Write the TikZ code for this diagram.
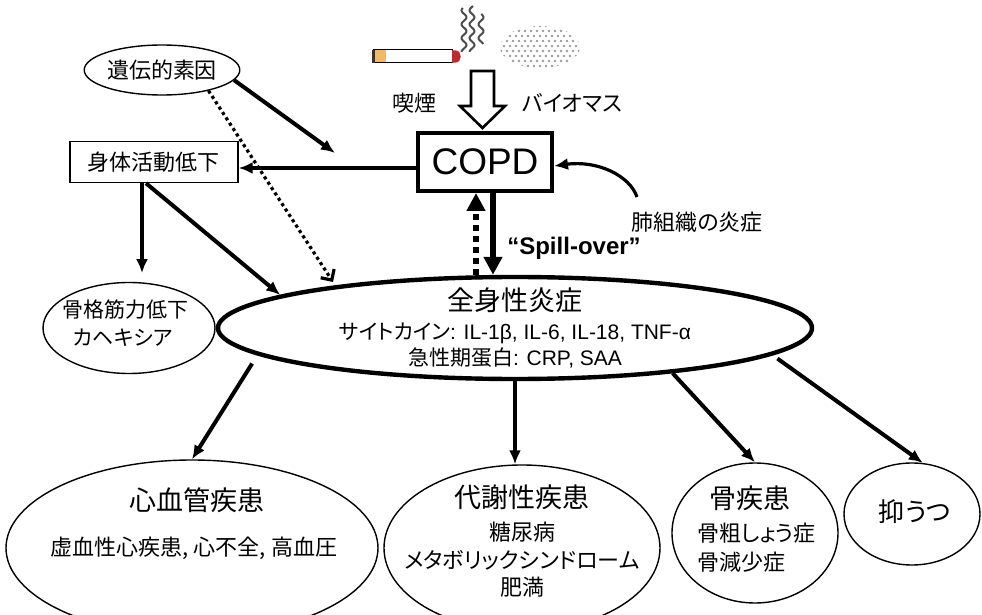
\documentclass[tikz,border=0pt]{standalone}
\usepackage{fontspec}
\setmainfont{Liberation Sans}
\newfontfamily\jp[RawFeature=+palt]{Noto Sans CJK JP}
\usetikzlibrary{arrows.meta,shapes.geometric}
\definecolor{filter}{HTML}{F2B866}
\definecolor{ember}{HTML}{C0282D}

\begin{document}
\begin{tikzpicture}[x=0.5pt,y=-0.5pt,
  jt/.style={font=\jp\fontsize{#1}{#1}\selectfont, inner sep=0pt},
  lt/.style={font=\fontsize{#1}{#1}\selectfont, inner sep=0pt},
  oval/.style={ellipse, draw=black, line width=0.7pt, inner sep=0pt},
  arr/.style={-{Latex[length=7pt,width=6pt]}, line width=2pt},
  fat/.style={-{Triangle[length=9pt,width=9pt]}, line width=3pt},
  dots/.style={-{Straight Barb[length=4pt,width=8pt]}, line width=1.6pt, dash pattern=on 1.6pt off 1.6pt},
]
\useasboundingbox (0,0) rectangle (982,615);

% cigarette and smoke
\draw[line width=0.5pt, fill=white] (373,50) rectangle (452,63);
\fill[filter] (374,50.5) rectangle (386,62.5);
\draw[line width=1.2pt, black!80] (373.5,50) -- (373.5,63);
\fill[ember] (452,50.3) -- (455,50.3) to[out=0,in=0,looseness=1.6] (455,62.7) -- (452,62.7) -- cycle;
\foreach \sx/\ya/\yb in {464/8/52, 472/6/52, 481/14/44}
  \draw[line width=1pt, black!70] plot[domain=\ya:\yb, samples=40, smooth] ({\sx+2.5*sin(\x*26)}, \x);

% biomass haze
\begin{scope}
  \clip (540,47) ellipse [x radius=40, y radius=21];
  \foreach \i in {0,...,14}
    \foreach \j in {0,...,9}
      \fill[black!40] ({498+\i*6+mod(\j,2)*3}, {26+\j*5}) circle [radius=0.65pt];
\end{scope}

% hollow arrow into COPD
\draw[line width=1.3pt, fill=white, line join=miter] (471,71) -- (494,71) -- (494,106) -- (505,106)
  -- (482.5,128) -- (460,106) -- (471,106) -- cycle;

\node (smoke) [jt=11] at (414,103) {喫煙};
\node (bio) [jt=11] at (572,103) {バイオマス};

\node (copd) [draw, line width=2pt, minimum width=67pt, minimum height=29pt, lt=18.5] at (485,162) {COPD};
\node (gene) [oval, minimum width=75pt, minimum height=25pt, jt=11] at (162,70) {遺伝的素因};
\node (act) [draw, line width=0.7pt, minimum width=84pt, minimum height=20.5pt, jt=11] at (154,162) {身体活動低下};
\node (lung) [jt=11] at (697,222) {肺組織の炎症};
\node (spill) [font=\bfseries\fontsize{12}{12}\selectfont, inner sep=0pt] at (574,248) {“Spill-over”};

% muscle
\node (muscle) [oval, minimum width=86pt, minimum height=45.5pt] at (129,328) {};
\node (muscle1) [jt=10.5] at (125,310) {骨格筋力低下};
\node (muscle2) [jt=10.5] at (123,338) {カヘキシア};

% systemic inflammation
\node (sys) [ellipse, draw, line width=2.2pt, minimum width=297pt, minimum height=51pt] at (515,328) {};
\node (sys1) [jt=13.5] at (515,300) {全身性炎症};
\node (sys2) [lt=10.5] at (515,333) {{\jp サイトカイン}: IL-1β, IL-6, IL-18, TNF-α};
\node (sys3) [lt=10.5] at (515,358) {{\jp 急性期蛋白}: CRP, SAA};

% comorbidities
\node (cvd) [oval, minimum width=186pt, minimum height=88pt] at (192,548) {};
\node (cvd1) [jt=13.5] at (197,500) {心血管疾患};
\node (cvd2) [jt=11] at (194,548) {虚血性心疾患, 心不全, 高血圧};

\node (met) [oval, minimum width=138pt, minimum height=83pt] at (522,548) {};
\node (met1) [jt=13.5] at (522,497) {代謝性疾患};
\node (met2) [jt=11] at (522,532) {糖尿病};
\node (met3) [jt=11] at (522,560) {メタボリックシンドローム};
\node (met4) [jt=11] at (522,587) {肥満};

\node (bone) [oval, minimum width=83pt, minimum height=70pt] at (755,533) {};
\node (bone1) [jt=13.5] at (750,498) {骨疾患};
\node (bone2) [jt=11, anchor=west] at (697,533) {骨粗しょう症};
\node (bone3) [jt=11, anchor=west] at (697,562) {骨減少症};

\node (dep) [oval, minimum width=68pt, minimum height=51pt] at (912,514) {};
\node (dep1) [jt=13] at (915,512) {抑うつ};

% connectors
\coordinate (g1) at (335,153);
\coordinate (d1) at (333,282);
\coordinate (c1) at (637,197);
\draw[arr] (gene.-8) -- (g1);
\draw[dots] (gene.-24) -- (d1);
\draw[arr] ([yshift=-3pt]copd.west) -- ([yshift=-3pt]act.east);
\draw[arr] ([xshift=-6pt]act.south) -- ++(0,90);
\draw[arr] ([xshift=-4pt]act.south) -- (sys.172);
\draw[arr, line width=1.6pt] (c1) .. controls (630,176) and (598,160) .. ([yshift=-2pt]copd.east);
\draw[fat] ([xshift=4pt]copd.south) -- ([xshift=4pt]copd.south |- sys.north);
\draw[fat, dash pattern=on 3pt off 2.5pt] ([xshift=-4.5pt]copd.south |- sys.north) -- ([xshift=-4.5pt]copd.south);
\draw[arr, shorten <=5pt] (sys.186.5) -- (cvd.north);
\draw[arr] (sys.south) -- (sys.south |- met.north);
\draw[arr] (sys.-16) -- (bone.north);
\draw[arr, shorten <=3pt] (sys.-6) -- (dep.78);
\end{tikzpicture}
\end{document}
